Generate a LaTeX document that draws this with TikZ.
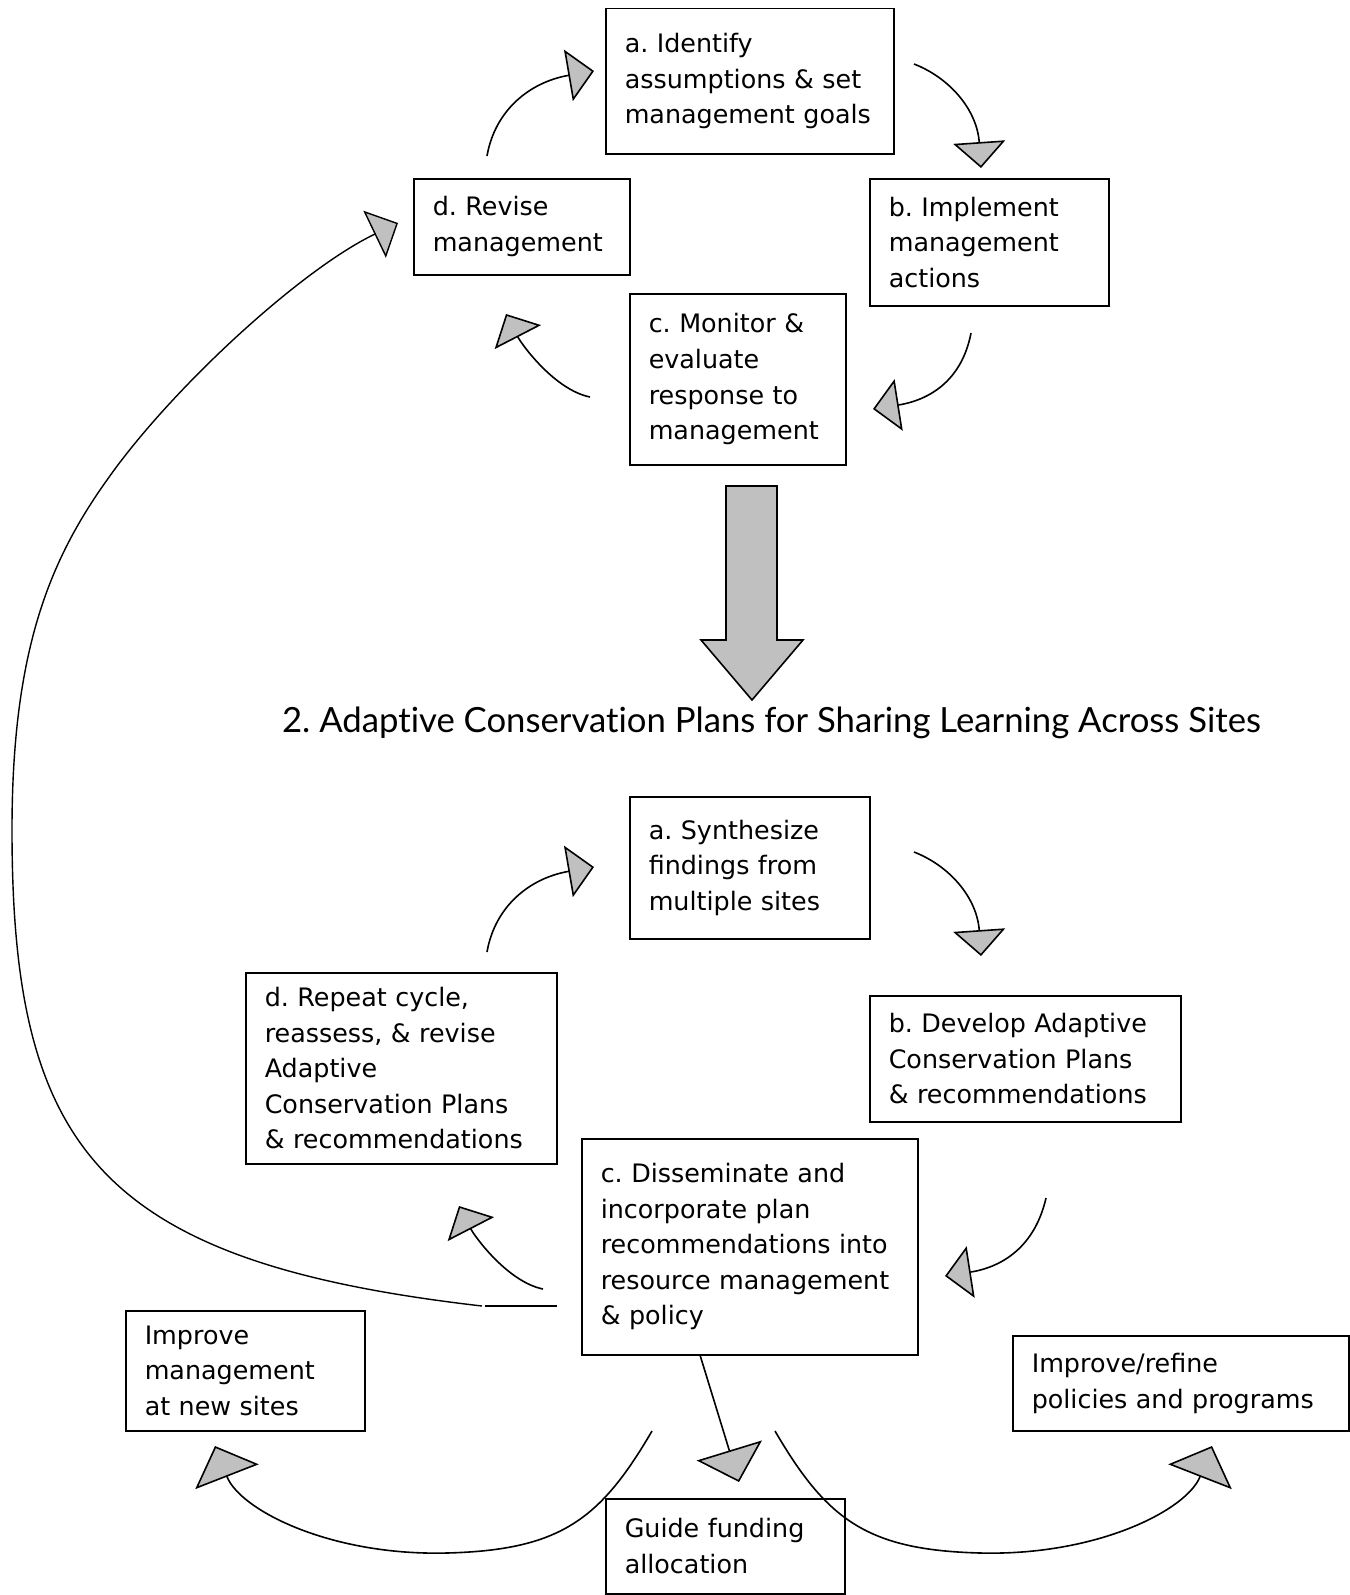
\documentclass[tikz,border=0pt]{standalone}
\usepackage{fontspec}
\setmainfont{DejaVu Sans}
\newfontfamily\titlefont[Ligatures=NoCommon]{Lato}
\usetikzlibrary{arrows.meta}
\definecolor{tipgray}{HTML}{C0C0C0}
\frenchspacing
\tikzset{
  stage/.style={draw, line width=1.5pt, anchor=north west, align=left,
    inner xsep=19pt, inner ysep=0pt, font=\fontsize{25.4}{35.6}\selectfont},
  cycarrow/.style={line width=1.6pt, -{Triangle[length=26pt,width=52pt,fill=tipgray]}},
  fanarrow/.style={line width=1.6pt, -{Triangle[length=33pt,width=68pt,fill=tipgray]}},
  bigarrow/.style={draw, line width=1.6pt, fill=tipgray, line join=miter},
}
\begin{document}
\begin{tikzpicture}[x=1pt, y=-1pt]
\useasboundingbox (0,0) rectangle (1349,1595);
% site cycle
\node[stage, text width=250pt, minimum height=145pt] (a1) at (605,8) {a. Identify\\assumptions \& set\\management goals};
\node[stage, text width=201pt, minimum height=127pt] (b1) at (869,178) {b. Implement\\management\\actions};
\node[stage, text width=178pt, minimum height=171pt] (c1) at (629,293) {c. Monitor \&\\evaluate\\response to\\management};
\node[stage, text width=178pt, minimum height=96pt] (d1) at (413,178) {d. Revise\\management};
% big arrow down
\draw[bigarrow] (726,486) -- (777,486) -- (777,640) -- (803,640) -- (752,700) -- (701,640) -- (726,640) -- cycle;
\node[font=\titlefont\fontsize{34.7}{40}\selectfont, anchor=base] (plans) at (771.5,732)
  {2. Adaptive Conservation Plans for Sharing Learning Across Sites};
% plan cycle
\node[stage, text width=202pt, minimum height=142pt] (a2) at (629,796) {a. Synthesize\\findings from\\multiple sites};
\node[stage, text width=273pt, minimum height=126pt] (b2) at (869,995) {b. Develop Adaptive\\Conservation Plans\\\& recommendations};
\node[stage, text width=298pt, minimum height=216pt] (c2) at (581,1138) {c. Disseminate and\\incorporate plan\\recommendations into\\resource management\\\& policy};
\node[stage, text width=273pt, minimum height=191pt] (d2) at (245,972) {d. Repeat cycle,\\reassess, \& revise\\Adaptive\\Conservation Plans\\\& recommendations};
% outcomes
\node[stage, text width=201pt, minimum height=120pt] (newsites) at (125,1310) {Improve\\management\\at new sites};
\node[stage, text width=298pt, minimum height=95pt] (policies) at (1012,1335) {Improve/refine\\policies and programs};
\node[stage, text width=201pt, minimum height=95pt] (funding) at (605,1498) {Guide funding\\allocation};
% arrow ends
\coordinate (d1go) at (487,156);   \coordinate (a1in) at (594,71);
\coordinate (a1go) at (914,64);    \coordinate (b1in) at (981,168);
\coordinate (b1go) at (971,333);   \coordinate (c1in) at (873,409);
\coordinate (c1go) at (590,397);   \coordinate (d1in) at (506,314);
\coordinate (d2go) at (487,952);   \coordinate (a2in) at (594,867);
\coordinate (a2go) at (914,852);   \coordinate (b2in) at (981,956);
\coordinate (b2go) at (1046,1198); \coordinate (c2in) at (945,1276);
\coordinate (c2go) at (543,1289);  \coordinate (d2in) at (459,1206);
\coordinate (c2down) at (700,1355); \coordinate (fundin) at (739,1482);
\coordinate (c2left) at (652,1431); \coordinate (sitesin) at (215,1446);
\coordinate (c2right) at (775,1431); \coordinate (policyin) at (1212,1446);
\coordinate (c2west) at (557,1306); \coordinate (loopgo) at (482,1306);
\coordinate (d1west) at (398,223);
\draw[cycarrow] (d1go) .. controls (495,110) and (530,82) .. (a1in);
\draw[cycarrow] (a1go) .. controls (950,78) and (977,110) .. (b1in);
\draw[cycarrow] (b1go) .. controls (962,380) and (930,400) .. (c1in);
\draw[cycarrow] (c1go) .. controls (555,390) and (522,345) .. (d1in);
\draw[cycarrow] (d2go) .. controls (495,906) and (530,878) .. (a2in);
\draw[cycarrow] (a2go) .. controls (950,866) and (977,898) .. (b2in);
\draw[cycarrow] (b2go) .. controls (1035,1246) and (1003,1267) .. (c2in);
\draw[cycarrow] (c2go) .. controls (508,1282) and (475,1237) .. (d2in);
\draw[fanarrow] (c2down) -- (fundin);
\draw[fanarrow] (c2left) .. controls (600,1520) and (560,1550) .. (447,1553)
  .. controls (330,1556) and (240,1510) .. (sitesin);
\draw[fanarrow] (c2right) .. controls (827,1520) and (867,1550) .. (980,1553)
  .. controls (1097,1556) and (1187,1510) .. (policyin);
% long loop back to revise
\draw[line width=1.4pt] (c2west) -- (485,1306);
\draw[cycarrow, line width=1.4pt] (loopgo) .. controls (100,1262) and (12,1150) .. (12,830)
  .. controls (12,650) and (50,560) .. (107,480) .. controls (170,390) and (300,270) .. (d1west);
\end{tikzpicture}
\end{document}
